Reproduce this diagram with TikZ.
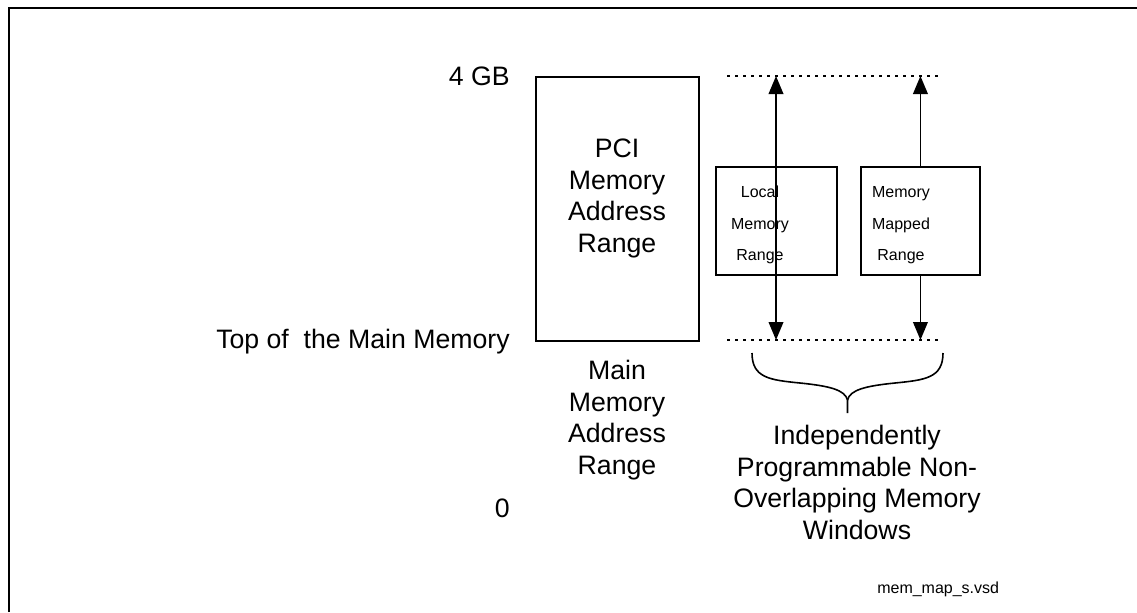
\documentclass[tikz,border=0pt]{standalone}
\usepackage{fontspec}
\setmainfont{Liberation Sans}
\usetikzlibrary{arrows.meta}
\newcommand\bigstrut{\rule{0pt}{16pt}}
\newcommand\smlstrut{\rule{0pt}{10pt}}
\begin{document}
\begin{tikzpicture}[x=0.75pt,y=-0.75pt,
  bigtxt/.style={inner sep=0pt,font=\fontsize{20}{23.8}\selectfont,align=center},
  smltxt/.style={inner sep=0pt,font=\fontsize{12}{23.8}\selectfont,align=center},
  boxshape/.style={draw,line width=1.4pt,inner sep=0pt,anchor=north west},
  arr/.style={line width=1.3pt,-{Triangle[length=13.5pt,width=11pt]}},
  dotline/.style={line width=1.2pt,dash pattern=on 2.25pt off 3.75pt}]
\useasboundingbox (0,0) rectangle (1137,612);
% frame
\draw[line width=1.5pt] (9,612) -- (9,7.7) -- (1137,7.7);
% left labels
\node[bigtxt,anchor=base east] (gb) at (510,85) {4 GB};
\node[bigtxt,anchor=base east] (top) at (510,348) {Top of\ \ the Main Memory};
\node[bigtxt,anchor=base east] (zero) at (510,517) {0};
% PCI box
\node[boxshape,minimum width=122.25pt,minimum height=198pt] (pci) at (535,76) {};
\node[bigtxt,anchor=north] (pcitxt) at (617,135.7) {\bigstrut PCI\\Memory\\Address\\Range};
\node[bigtxt,anchor=north] (maintxt) at (617,357.7) {\bigstrut Main\\Memory\\Address\\Range};
% window boxes
\node[boxshape,minimum width=90.75pt,minimum height=81pt] (local) at (715,166) {};
\node[boxshape,minimum width=89.25pt,minimum height=81pt] (mapped) at (860,166) {};
\node[smltxt,anchor=north] (localtxt) at (760,183.7) {\smlstrut Local\\Memory\\Range};
\node[smltxt,anchor=north] (mappedtxt) at (901,183.7) {\smlstrut Memory\\Mapped\\Range};
% dotted lines
\coordinate (d1l) at (727,76);
\coordinate (d1r) at (938,76);
\coordinate (d2l) at (727,340);
\coordinate (d2r) at (938,340);
\draw[dotline] (d1l) -- (d1r);
\draw[dotline] (d2l) -- (d2r);
% arrows
\coordinate (lt) at (776,76);
\coordinate (lb) at (776,340);
\draw[arr,{Triangle[length=13.5pt,width=11pt]}-{Triangle[length=13.5pt,width=11pt]}] (lt) -- (lb);
\coordinate (rt) at (mapped.north |- d1l);
\coordinate (rb) at (mapped.south |- d2l);
\draw[arr] (mapped.north) -- (rt);
\draw[arr] (mapped.south) -- (rb);
% brace
\draw[line width=1.2pt]
  (752,353) .. controls (752,378) and (770,380) .. (800,383)
  .. controls (830,386) and (845,390) .. (847.5,400) -- (847.5,413);
\draw[line width=1.2pt]
  (943,353) .. controls (943,378) and (925,380) .. (895,383)
  .. controls (865,386) and (850,390) .. (847.5,400);
\node[bigtxt,anchor=north] (indep) at (857,422.7) {\bigstrut Independently\\Programmable Non-\\Overlapping Memory\\Windows};
% file name
\node[smltxt,anchor=base west] (fname) at (877,593) {mem\_map\_s.vsd};
\end{tikzpicture}
\end{document}
